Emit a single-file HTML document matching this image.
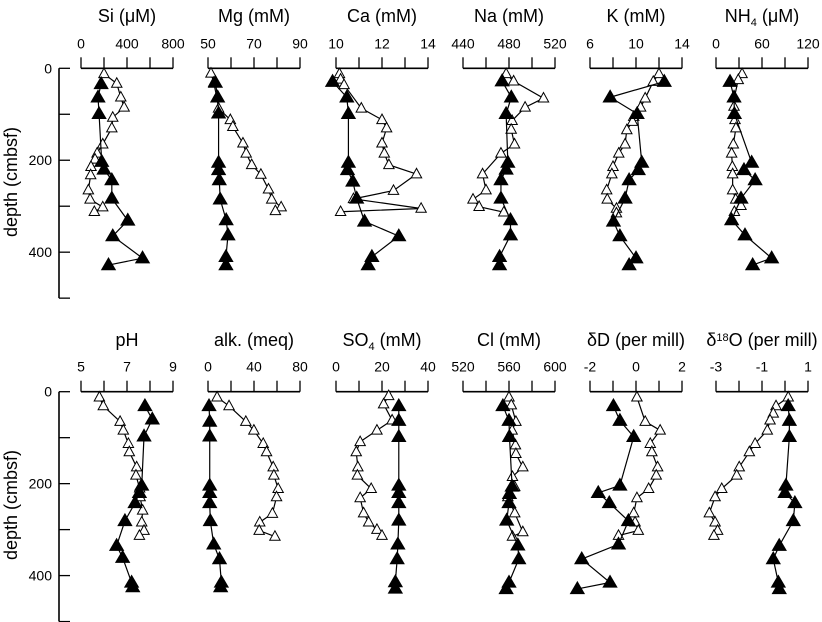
<!DOCTYPE html>
<html><head><meta charset="utf-8"><style>
html,body{margin:0;padding:0;background:#fff;}
svg{display:block;font-family:"Liberation Sans",Arial,sans-serif;}
</style></head><body>
<svg id="chart" width="822" height="622" viewBox="0 0 822 622" xmlns="http://www.w3.org/2000/svg"></svg>
<script>
// ---- data (depth in cmbsf) ----
const siOpenD=[12,33,63,85,107,130,165,185,198,214,232,265,285,302,312];
const siOpenV=[200,311,346,375,276,268,189,140,122,87,84,64,79,189,116];
const siFillD=[34,63,99,203,220,243,283,331,365,413,428];
const siFillV=[175,148,157,180,200,268,268,407,276,535,239];
const mgOpenD=[11,31,63,87,112,127,163,185,210,231,263,285,302,310];
const mgOpenV=[51.3,52.5,53.8,54.6,59.7,60.8,65.2,66.6,69,73,76.3,77.7,81.8,79.3];
const mgFillD=[31,63,98,205,221,243,285,330,363,410,428];
const mgFillV=[53.2,54.2,54.6,54.6,54.6,54.9,55.3,57.9,58.7,57.8,57.8];
const caOpenD=[12,24,36,87,112,130,163,185,210,230,266,284,305,312];
const caOpenV=[10.15,10.2,10.35,11.1,12.0,12.2,12.0,12.1,12.3,13.5,12.5,10.76,13.7,10.2];
const caFillD=[29,63,99,205,221,246,283,333,365,410,428];
const caFillV=[9.85,10.47,10.54,10.54,10.5,10.73,10.9,11.24,12.73,11.56,11.4];
const naOpenD=[12,28,65,85,114,133,165,185,230,265,285,301,313];
const naOpenV=[477.5,484,510,494,482.7,481.9,484.8,473,457,460,448.7,454,475.5];
const naFillD=[28,63,99,205,220,243,283,330,363,410,428];
const naFillV=[474,482,477.5,479,477.5,473,473,481.3,481.3,471.8,471.8];
const kOpenD=[12,29,65,85,105,116,134,165,185,214,230,265,285,305,315];
const kOpenV=[12.0,11.5,10.8,10.4,9.8,9.7,9.2,9.05,8.5,8.0,7.9,7.45,7.5,8.3,8.3];
const kFillD=[29,63,99,205,221,243,283,333,365,413,428];
const kFillV=[12.46,7.75,10.1,10.5,10.2,9.4,9.05,8.04,8.6,10.0,9.4];
const nhOpenD=[12,25,63,83,112,130,165,185,214,230,265,285,299,312];
const nhOpenV=[34,29,24,23.5,24.8,26,22.6,20.4,21.3,21.7,21.7,25.7,32.6,24];
const nhFillD=[29,63,99,205,221,243,283,330,363,413,428];
const nhFillV=[18.3,23.5,24,46.5,36.5,51,32.6,20.4,37.8,72.6,47.8];
const phOpenD=[12,31,65,84,113,131,164,182,210,229,258,284,302,313];
const phOpenV=[5.8,5.97,6.7,6.84,7.06,7.1,7.42,7.39,7.55,7.57,7.68,7.64,7.74,7.54];
const phFillD=[31,60,97,204,220,242,281,335,361,415,425];
const phFillV=[7.78,8.1,7.74,7.64,7.54,7.35,6.91,6.55,6.81,7.2,7.25];
const alkOpenD=[12,31,65,84,113,131,164,182,211,229,265,284,302,315];
const alkOpenV=[7.9,18.3,32.9,39.9,48,50.9,56.7,57.3,61,59.6,56,45,44.5,58.2];
const alkFillD=[31,65,97,204,220,242,281,332,364,415,425];
const alkFillV=[0.9,1.5,1.5,1.5,1.5,1.5,2,5,10,11.6,11];
const so4OpenD=[9,27,62,84,109,131,164,182,211,231,264,284,300,313];
const so4OpenV=[22.9,20.7,24.4,17.8,10.5,8.8,9.5,9.3,15.3,10.5,12,14.2,17.8,20];
const so4FillD=[31,63,98,204,220,242,280,332,364,414,428];
const so4FillV=[27.3,27.3,27.3,27.3,27.3,27.3,27.3,26.9,26.6,25.8,25.8];
const clOpenD=[12,29,65,84,116,135,164,185,207,229,264,305,315];
const clOpenV=[560,562,566,562.7,565.6,566,572,563,565,559,565,572,563];
const clFillD=[31,63,98,206,222,242,280,334,364,415,429];
const clFillV=[554.7,560,560.4,562.7,560.4,560,558,567.7,568.5,560,557.5];
const dOpenD=[12,65,84,113,131,164,182,211,231,264,284,302,313];
const dOpenV=[0.04,0.4,1.05,0.62,0.69,0.94,0.88,0.55,0.04,-0.1,-0.04,0.1,-0.76];
const dFillD=[31,63,98,204,220,242,281,332,364,415,429];
const dFillV=[-0.98,-0.7,-0.1,-0.7,-1.64,-1.16,-0.33,-0.76,-2.36,-1.13,-2.55];
const oOpenD=[12,31,47,62,84,113,131,164,182,211,229,264,284,302,313];
const oOpenV=[0.14,-0.39,-0.51,-0.65,-0.77,-1.3,-1.55,-1.99,-2.1,-2.75,-3.04,-3.29,-3.04,-2.93,-3.09];
const oFillD=[31,63,98,204,220,242,281,335,364,415,429];
const oFillV=[0.14,0.19,0.19,0.04,0,0.43,0.36,-0.25,-0.51,-0.29,-0.25];
const depthTicks=[0,200,400];

const panels=[
 {id:'si',row:0,col:0,title:['Si (μM)'],min:0,max:800,ticks:['0','400','800'],od:siOpenD,ov:siOpenV,fd:siFillD,fv:siFillV},
 {id:'mg',row:0,col:1,title:['Mg (mM)'],min:50,max:90,ticks:['50','70','90'],od:mgOpenD,ov:mgOpenV,fd:mgFillD,fv:mgFillV},
 {id:'ca',row:0,col:2,title:['Ca (mM)'],min:10,max:14,ticks:['10','12','14'],od:caOpenD,ov:caOpenV,fd:caFillD,fv:caFillV},
 {id:'na',row:0,col:3,title:['Na (mM)'],min:440,max:520,ticks:['440','480','520'],od:naOpenD,ov:naOpenV,fd:naFillD,fv:naFillV},
 {id:'k',row:0,col:4,title:['K (mM)'],min:6,max:14,ticks:['6','10','14'],od:kOpenD,ov:kOpenV,fd:kFillD,fv:kFillV},
 {id:'nh4',row:0,col:5,title:['NH','4',' (μM)'],min:0,max:120,ticks:['0','60','120'],od:nhOpenD,ov:nhOpenV,fd:nhFillD,fv:nhFillV},
 {id:'ph',row:1,col:0,title:['pH'],min:5,max:9,ticks:['5','7','9'],od:phOpenD,ov:phOpenV,fd:phFillD,fv:phFillV},
 {id:'alk',row:1,col:1,title:['alk. (meq)'],min:0,max:80,ticks:['0','40','80'],od:alkOpenD,ov:alkOpenV,fd:alkFillD,fv:alkFillV},
 {id:'so4',row:1,col:2,title:['SO','4',' (mM)'],min:0,max:40,ticks:['0','20','40'],od:so4OpenD,ov:so4OpenV,fd:so4FillD,fv:so4FillV},
 {id:'cl',row:1,col:3,title:['Cl (mM)'],min:520,max:600,ticks:['520','560','600'],od:clOpenD,ov:clOpenV,fd:clFillD,fv:clFillV},
 {id:'dd',row:1,col:4,title:['δD (per mill)'],min:-2,max:2,ticks:['-2','0','2'],od:dOpenD,ov:dOpenV,fd:dFillD,fv:dFillV},
 {id:'d18o',row:1,col:5,title:['δ','18','O (per mill)'],min:-3,max:1,ticks:['-3','-1','1'],od:oOpenD,ov:oOpenV,fd:oFillD,fv:oFillV}
];

const NS='http://www.w3.org/2000/svg';
const svg=document.getElementById('chart');
const colX=[81,208,336,463,590,716], PW=92;
const rowY=[68.3,391.7], DS=0.4597;
function mk(tag,attrs,parent){const e=document.createElementNS(NS,tag);for(const k in attrs)e.setAttribute(k,attrs[k]);(parent||svg).appendChild(e);return e;}
function yScale(row,d){return rowY[row]+d*DS;}

[0,1].forEach(row=>{
  const g=mk('g',{});
  
  
  const y0=rowY[row];
  mk('line',{x1:59,y1:y0,x2:59,y2:Math.min(y0+500*DS,622),stroke:'#000','stroke-width':1.6},g);
  for(let d=0;d<=500;d+=100){const y=yScale(row,d);if(y>622)break;mk('line',{x1:59,y1:y,x2:70,y2:y,stroke:'#000','stroke-width':1.3},g);}
  depthTicks.forEach(d=>{const t=mk('text',{x:52,y:yScale(row,d)+5,'text-anchor':'end','font-size':14},g);t.textContent=d;});
  const cy=row===0?182:505;
  const t=mk('text',{x:0,y:0,'font-size':18,'text-anchor':'middle',transform:'translate(17,'+cy+') rotate(-90)'},g);
  t.textContent='depth (cmbsf)';
  
  
});

function tri(g,x,y,filled){
  const s=filled?7:5.2, h=filled?12:9.5;
  const p=mk('polygon',{points:(x)+','+(y-h*0.6)+' '+(x-s)+','+(y+h*0.4)+' '+(x+s)+','+(y+h*0.4),
    fill:filled?'#000':'#fff',stroke:'#000','stroke-width':filled?0.8:1},g);
  
  
}

panels.forEach(p=>{
  const g=mk('g',{});
  
  
  const x0=colX[p.col], y0=rowY[p.row];
  const xs=v=>x0+(v-p.min)/(p.max-p.min)*PW;
  const tt=mk('text',{x:x0+PW/2,y:p.row===0?22:346,'text-anchor':'middle','font-size':18},g);
  
  
  p.title.forEach((s,i)=>{const ts=mk('tspan',{},tt);
    if(p.title.length===3&&i===1){ts.setAttribute('font-size',11);ts.setAttribute('dy',p.id==='d18o'?-5:4);}
    else if(p.title.length===3&&i===2){ts.setAttribute('dy',p.id==='d18o'?5:-4);}
    ts.textContent=s;});
  const ax=mk('g',{},g);
  
  
  mk('line',{x1:x0,y1:y0,x2:x0+PW,y2:y0,stroke:'#000','stroke-width':1.6},ax);
  for(let i=0;i<=4;i++){const x=x0+PW*i/4;mk('line',{x1:x,y1:y0,x2:x,y2:y0-11,stroke:'#000','stroke-width':1.3},ax);}
  p.ticks.forEach((t,i)=>{const tx=mk('text',{x:x0+PW*i/2,y:y0-20,'text-anchor':'middle','font-size':14},ax);tx.textContent=t;});
  const ser=(d,v,filled)=>{
    const sg=mk('g',{},g);
    
    
    const pts=d.map((dd,i)=>xs(v[i])+','+yScale(p.row,dd)).join(' ');
    mk('polyline',{points:pts,fill:'none',stroke:'#000','stroke-width':1.2},sg);
    return sg;
  };
  const og=ser(p.od,p.ov,false), fg=ser(p.fd,p.fv,true);
  p.od.forEach((dd,i)=>tri(og,xs(p.ov[i]),yScale(p.row,dd),false));
  p.fd.forEach((dd,i)=>tri(fg,xs(p.fv[i]),yScale(p.row,dd),true));
});
</script>
</body></html>
